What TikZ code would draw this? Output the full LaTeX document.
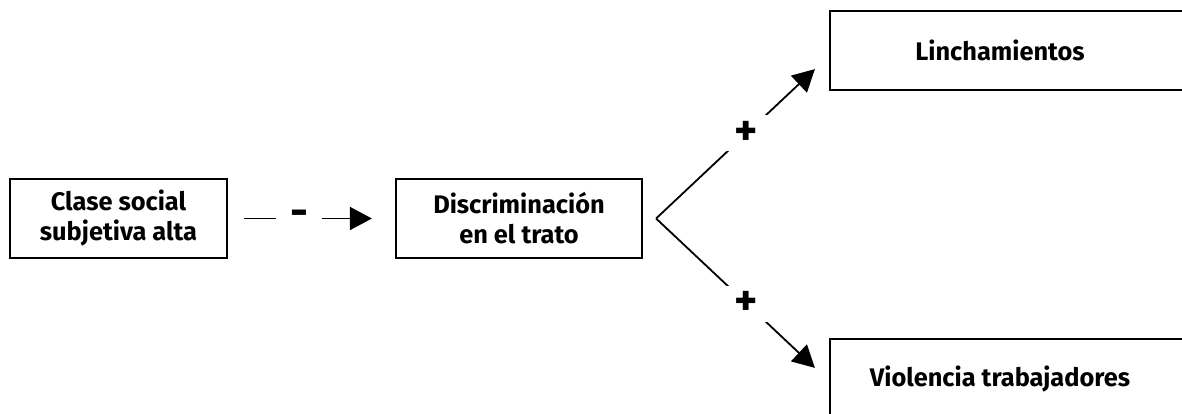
\documentclass[tikz,border=0pt]{standalone}
\usepackage{fontspec}
\setmainfont{Fira Sans}
\usetikzlibrary{arrows.meta,positioning}

\begin{document}
\begin{tikzpicture}[x=0.5pt,y=-0.5pt,font=\bfseries\fontsize{12.7}{15}\selectfont,
	caja/.style={draw, line width=1.1pt, align=center, minimum height=39.5pt, inner sep=0pt},
	flecha/.style={line width=0.9pt, -{Triangle[length=11pt,width=11.5pt]}},
	signo/.style={fill=white, inner xsep=7pt, inner ysep=3pt, font=\bfseries\fontsize{22}{22}\selectfont}]

	\useasboundingbox (0,0) rectangle (1182,413);
	\clip (0,0) rectangle (1182,413);

	\node[caja, minimum width=108.5pt] (clase) at (118.5,218.5) {Clase social\\subjetiva alta};
	\node[caja, minimum width=123pt] (discrim) at (519,218.5) {Discriminación\\en el trato};
	\node[caja, minimum width=200pt, label={[xshift=-15pt]center:Linchamientos}] (linch) at (1030,50.5) {};
	\node[caja, minimum width=200pt, label={[xshift=-15pt]center:Violencia trabajadores}] (violen) at (1030,378.5) {};

	\coordinate (fork) at ([xshift=6.5pt]discrim.east);
	\coordinate (tipL) at ([xshift=-7pt,yshift=11pt]linch.south west);
	\coordinate (tipV) at ([xshift=-7pt,yshift=-15pt]violen.north west);

	\draw[flecha] ([xshift=8pt]clase.east) -- node[signo, pos=.43]{-} ([xshift=-11.5pt]discrim.west);
	\draw[flecha] (fork) -- node[signo, pos=.57]{+} (tipL);
	\draw[flecha] (fork) -- node[signo, pos=.57]{+} (tipV);

\end{tikzpicture}
\end{document}
